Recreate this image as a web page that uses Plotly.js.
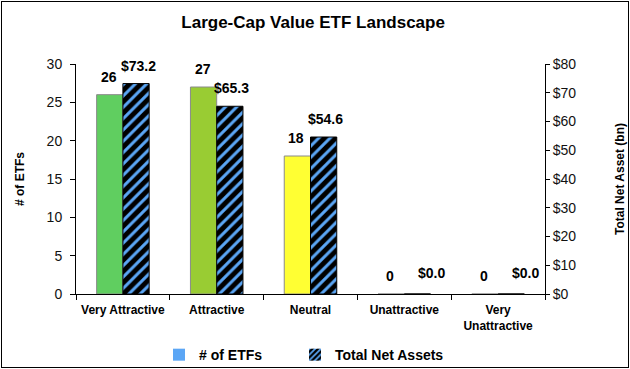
<!DOCTYPE html>
<html><head><meta charset="utf-8">
<script src="https://cdn.plot.ly/plotly-3.0.1.min.js"></script>
<style>html,body{margin:0;padding:0;background:#fff}#wrap{position:relative;width:630px;height:369px}#chart{width:630px;height:369px}
#frame{position:absolute;left:1px;top:1px;width:626px;height:365px;border:1px solid #000;pointer-events:none}</style>
</head><body><div id="wrap"><div id="chart"></div><div id="frame"></div></div>
<script>
const categories = ["Very Attractive", "Attractive", "Neutral", "Unattractive", "Very<br>Unattractive"];
const etfCounts = [26, 27, 18, 0, 0];
const netAssets = [73.2, 65.3, 54.6, 0, 0];
const etfColors = ["#60CE60", "#99CC33", "#FFFF33", "#AAAAAA", "#AAAAAA"];
const seriesNames = ["# of ETFs", "Total Net Assets"];

const W = 630, H = 369, L = 76, R = 85, T = 64, B = 75;
const pw = W - L - R;
const bw = 0.28;
const barPx = bw * pw / categories.length;
const font = "Arial, 'Liberation Sans', sans-serif";
const labelFont = {family: font, size: 14, color: "#000", weight: "bold"};
const legendFont = {family: font, size: 14, color: "#000", weight: "bold"};

const traces = [
  {type: "bar", x: categories, y: etfCounts, yaxis: "y", width: bw, offset: -bw,
   marker: {color: etfColors, line: {color: "#8a8a8a", width: 1}},
   showlegend: false, hoverinfo: "skip"},
  {type: "bar", x: categories, y: netAssets, yaxis: "y2", width: bw, offset: 0,
   marker: {color: "#000", line: {color: "#000", width: 1},
            pattern: {shape: "/", fgcolor: "#5BA6F5", bgcolor: "#000", size: 8, solidity: 0.38}},
   showlegend: false, hoverinfo: "skip"},
  {type: "bar", x: [categories[0]], y: [null], yaxis: "y", name: seriesNames[0], width: bw, offset: -bw,
   legend: "legend", marker: {color: "#5BA6F5"}},
  {type: "bar", x: [categories[0]], y: [null], yaxis: "y", name: seriesNames[1], width: bw, offset: 0,
   legend: "legend2",
   marker: {color: "#000", pattern: {shape: "/", fgcolor: "#5BA6F5", bgcolor: "#000", size: 5, solidity: 0.45}}}
];

const annotations = [];
categories.forEach((c, i) => {
  annotations.push({x: c, y: etfCounts[i], xref: "x", yref: "y", text: String(etfCounts[i]),
    showarrow: false, xanchor: "center", yanchor: "bottom", xshift: -barPx / 2 - 1, yshift: 8, font: labelFont});
  annotations.push({x: c, y: netAssets[i], xref: "x", yref: "y2", text: "$" + netAssets[i].toFixed(1),
    showarrow: false, xanchor: "center", yanchor: "bottom", xshift: barPx / 2 + (netAssets[i] > 0 ? 2 : 14),
    yshift: netAssets[i] > 0 ? 8 : 11, font: labelFont});
});

const layout = {
  width: W, height: H,
  margin: {l: L, r: R, t: T, b: B, autoexpand: false},
  paper_bgcolor: "#fff", plot_bgcolor: "#fff",
  font: {family: font, color: "#000"},
  title: {text: "<b>Large-Cap Value ETF Landscape</b>", x: 0.497, xanchor: "center", y: 0.94, yanchor: "middle",
          font: {family: font, size: 17, color: "#000"}},
  barmode: "overlay",
  annotations: annotations,
  xaxis: {type: "category", showline: true, linecolor: "#000", linewidth: 1, automargin: false,
          ticks: "outside", ticklen: 5, tickcolor: "#000", tickson: "boundaries", ticklabelstandoff: 5,
          tickfont: {family: font, size: 12, color: "#000", weight: "bold"},
          showgrid: false, zeroline: false, fixedrange: true},
  yaxis: {range: [0, 30], dtick: 5, showline: true, linecolor: "#000", linewidth: 1, automargin: false,
          ticks: "outside", ticklen: 5, tickcolor: "#000", ticklabelstandoff: 5,
          tickfont: {family: font, size: 14, color: "#111"}, showgrid: false, zeroline: false,
          title: {text: "<b># of ETFs</b>", font: {family: font, size: 12, color: "#000"}, standoff: 19}},
  yaxis2: {range: [0, 80], dtick: 10, overlaying: "y", side: "right", tickprefix: "$", automargin: false,
           showline: true, linecolor: "#000", linewidth: 1, ticks: "outside", ticklen: 4, tickcolor: "#000",
           tickfont: {family: font, size: 14, color: "#111"}, showgrid: false, zeroline: false,
           title: {text: "<b>Total Net Asset (bn)</b>", font: {family: font, size: 12, color: "#000"}, standoff: 40}},
  legend: {orientation: "h", x: 0.177, xanchor: "left", y: -0.196, yanchor: "top",
           font: legendFont, itemwidth: 30, bgcolor: "rgba(0,0,0,0)"},
  legend2: {orientation: "h", x: 0.467, xanchor: "left", y: -0.196, yanchor: "top",
           font: legendFont, itemwidth: 30, bgcolor: "rgba(0,0,0,0)"}
};

Plotly.newPlot("chart", traces, layout, {displayModeBar: false, staticPlot: true});
</script></body></html>
